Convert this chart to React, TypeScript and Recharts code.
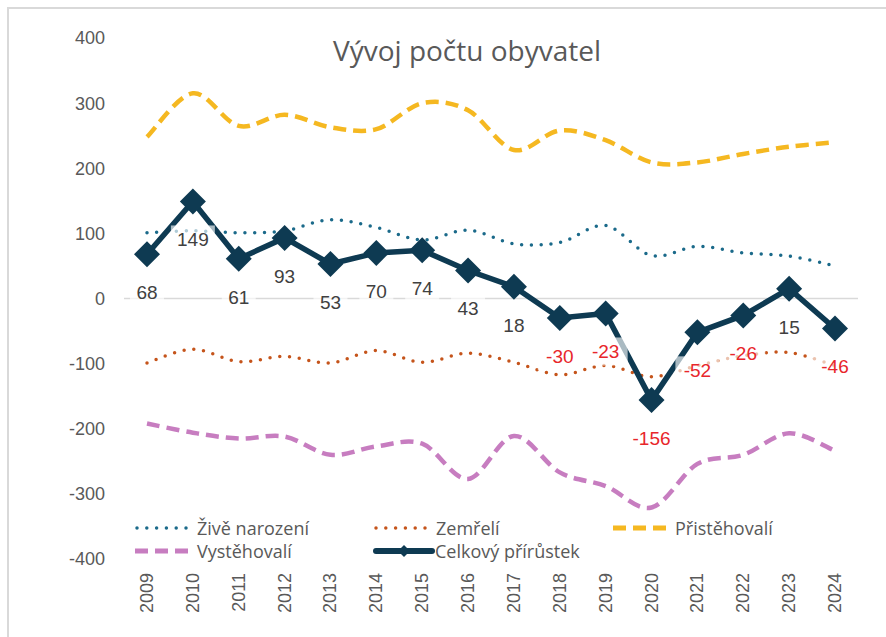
import React from 'react'
import { LineChart, Line, XAxis, YAxis, ReferenceLine, Legend, LabelList } from 'recharts'

const roky = ['2009', '2010', '2011', '2012', '2013', '2014', '2015', '2016', '2017', '2018', '2019', '2020', '2021', '2022', '2023', '2024']
const ziveNarozeni = [101, 104, 101, 104, 121, 109, 90, 105, 84, 86, 112, 66, 80, 70, 65, 50]
const zemreli = [-99, -78, -97, -89, -99, -80, -98, -84, -98, -117, -103, -120, -103, -88, -83, -103]
const pristehovali = [248, 315, 265, 282, 263, 260, 300, 289, 228, 258, 243, 209, 209, 222, 233, 240]
const vystehovali = [-192, -206, -215, -212, -240, -227, -223, -277, -211, -267, -288, -321, -254, -240, -207, -234]
const celkovy = [68, 149, 61, 93, 53, 70, 74, 43, 18, -30, -23, -156, -52, -26, 15, -46]
const yTicks = [-400, -300, -200, -100, 0, 100, 200, 300, 400]

const data = roky.map((rok, i) => ({
  rok,
  zive: ziveNarozeni[i],
  zemreli: zemreli[i],
  prist: pristehovali[i],
  vyst: vystehovali[i],
  celkem: celkovy[i],
}))

const NAVY = '#0e3a52'
const TEAL = '#1b6a8a'
const ORANGE = '#c5541b'
const YELLOW = '#f5b821'
const PURPLE = '#c77dc0'
const TXT = '#595959'
const NUM_FONT = '"Liberation Sans", Arial, sans-serif'
const TXT_FONT = '"Open Sans", sans-serif'

// Excel-like smoothed line (Catmull-Rom style bezier)
function excelSmooth(context: any) {
  let pts: number[][] = []
  return {
    areaStart() {},
    areaEnd() {},
    lineStart() { pts = [] },
    point(x: number, y: number) { pts.push([+x, +y]) },
    lineEnd() {
      const n = pts.length
      if (!n) return
      context.moveTo(pts[0][0], pts[0][1])
      for (let i = 0; i < n - 1; i++) {
        const p0 = pts[Math.max(i - 1, 0)]
        const p1 = pts[i]
        const p2 = pts[i + 1]
        const p3 = pts[Math.min(i + 2, n - 1)]
        context.bezierCurveTo(
          p1[0] + (p2[0] - p0[0]) / 6, p1[1] + (p2[1] - p0[1]) / 6,
          p2[0] - (p3[0] - p1[0]) / 6, p2[1] - (p3[1] - p1[1]) / 6,
          p2[0], p2[1],
        )
      }
    },
  }
}

function Diamond(props: any) {
  const { cx, cy, index } = props
  if (cx == null || cy == null) return <g key={index} />
  const r = 13
  return (
    <path key={index} d={`M${cx},${cy - r}L${cx + r},${cy}L${cx},${cy + r}L${cx - r},${cy}Z`} fill={NAVY} />
  )
}

function ValueLabel(props: any) {
  const { x, y, value } = props
  if (x == null || y == null) return null
  const s = String(value)
  const w = s.length * 10 + 14
  const ly = y + 38
  return (
    <g>
      <rect x={x - w / 2} y={ly - 14} width={w} height={28} fill="#fff" fillOpacity={0.65} />
      <text x={x} y={ly + 7} textAnchor="middle" fontSize={19} fontFamily={NUM_FONT} fill={value < 0 ? '#e8262b' : '#404040'}>
        {s}
      </text>
    </g>
  )
}

function RokTick(props: any) {
  const { x, y, payload } = props
  return (
    <text transform={`translate(${x + 6},${y + 8}) rotate(-90)`} textAnchor="end" fontSize={18} fontFamily={NUM_FONT} fill={TXT}>
      {payload.value}
    </text>
  )
}

function Sample({ kind, color }: { kind: string; color: string }) {
  if (kind === 'dot') {
    return (
      <svg width={56} height={12}>
        <line x1={3} y1={6} x2={55} y2={6} stroke={color} strokeWidth={3.5} strokeDasharray="0 9.8" strokeLinecap="round" />
      </svg>
    )
  }
  if (kind === 'dash') {
    return (
      <svg width={56} height={12}>
        <line x1={1} y1={6} x2={55} y2={6} stroke={color} strokeWidth={5} strokeDasharray="13 7" />
      </svg>
    )
  }
  return (
    <svg width={62} height={14}>
      <line x1={3} y1={7} x2={59} y2={7} stroke={color} strokeWidth={6} strokeLinecap="round" />
      <path d="M31,1L37,7L31,13L25,7Z" fill={color} />
    </svg>
  )
}

const legendItems = [
  { name: 'Živě narození', kind: 'dot', color: TEAL },
  { name: 'Zemřelí', kind: 'dot', color: ORANGE },
  { name: 'Přistěhovalí', kind: 'dash', color: YELLOW },
  { name: 'Vystěhovalí', kind: 'dash', color: PURPLE },
  { name: 'Celkový přírůstek', kind: 'solid', color: NAVY },
]

function ChartLegend() {
  return (
    <div style={{ display: 'grid', gridTemplateColumns: '239px 239px 200px', rowGap: 0, fontFamily: TXT_FONT, fontSize: 18, color: TXT }}>
      {legendItems.map((it) => (
        <div key={it.name} style={{ display: 'flex', alignItems: 'center', gap: it.kind === 'solid' ? 0 : 7, height: 23 }}>
          <Sample kind={it.kind} color={it.color} />
          <span>{it.name}</span>
        </div>
      ))}
    </div>
  )
}

export default function App() {
  return (
    <div style={{ position: 'absolute', left: 0, top: 0, width: 886, height: 637, background: '#fff' }}>
      <div style={{ position: 'absolute', left: 7, top: 7, right: 0, bottom: 0, borderLeft: '2px solid #d9d9d9', borderTop: '2px solid #d9d9d9' }} />
      <div style={{ position: 'absolute', left: 0, top: 0 }}>
        <LineChart width={886} height={637} data={data} margin={{ top: 38, right: 28, bottom: 18, left: 0 }}>
          <text x={467} y={61} textAnchor="middle" fontSize={28} fontFamily={TXT_FONT} fill={TXT}>
            Vývoj počtu obyvatel
          </text>
          <XAxis dataKey="rok" axisLine={false} tickLine={false} height={60} tick={<RokTick />} tickMargin={0} interval={0} padding={{ left: 23, right: 23 }} />
          <YAxis domain={[-400, 400]} ticks={yTicks} width={124} axisLine={false} tickLine={false} tickSize={6} tickMargin={13}
            tick={{ fontSize: 18, fontFamily: NUM_FONT, fill: TXT }} />
          <ReferenceLine y={0} stroke="#d9d9d9" strokeWidth={1.5} />
          <Line type={excelSmooth as any} dataKey="zive" name="Živě narození" stroke={TEAL} strokeWidth={3.5} strokeDasharray="0 9.8" strokeLinecap="round" dot={false} isAnimationActive={false} />
          <Line type={excelSmooth as any} dataKey="zemreli" name="Zemřelí" stroke={ORANGE} strokeWidth={3.5} strokeDasharray="0 9.8" strokeLinecap="round" dot={false} isAnimationActive={false} />
          <Line type={excelSmooth as any} dataKey="prist" name="Přistěhovalí" stroke={YELLOW} strokeWidth={4.5} strokeDasharray="13 7" dot={false} isAnimationActive={false} />
          <Line type={excelSmooth as any} dataKey="vyst" name="Vystěhovalí" stroke={PURPLE} strokeWidth={4.5} strokeDasharray="13 7" dot={false} isAnimationActive={false} />
          <Line type="linear" dataKey="celkem" name="Celkový přírůstek" stroke={NAVY} strokeWidth={5.5} dot={Diamond} activeDot={false} isAnimationActive={false}>
            <LabelList dataKey="celkem" content={ValueLabel} />
          </Line>
          <Legend content={ChartLegend} layout="horizontal" verticalAlign="middle" align="center"
            wrapperStyle={{ position: 'absolute', left: 134, top: 516, width: 720, bottom: 'auto' }} />
        </LineChart>
      </div>
    </div>
  )
}
